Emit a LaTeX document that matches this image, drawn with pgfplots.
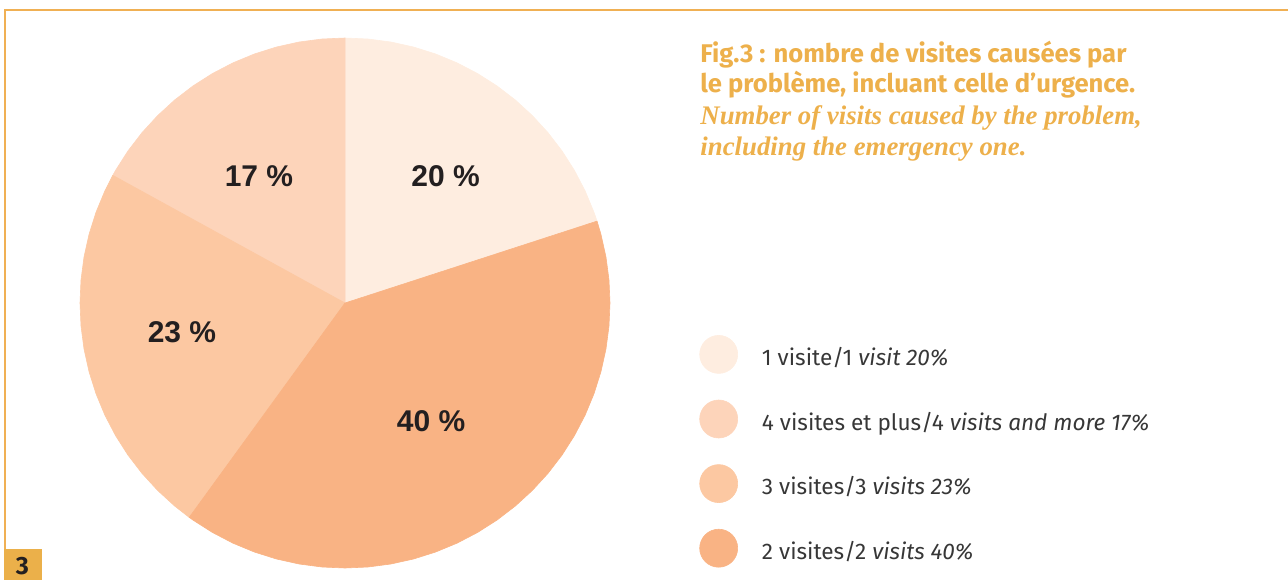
\documentclass[border=0pt]{standalone}
\usepackage{pgfplots}
\pgfplotsset{compat=1.18}
\usepgfplotslibrary{polar}
\usepackage{fontspec}
\setmainfont{Fira Sans}
\newfontfamily\lsans{Liberation Sans}
\newfontfamily\lserif{Liberation Serif}
\definecolor{frameor}{RGB}{240,176,84}
\definecolor{titleor}{RGB}{237,176,75}
\definecolor{boxor}{RGB}{235,176,74}
\definecolor{labelblack}{RGB}{35,31,32}
\definecolor{legtext}{RGB}{55,55,55}
\definecolor{cA}{RGB}{254,237,224}
\definecolor{cB}{RGB}{249,179,132}
\definecolor{cC}{RGB}{252,200,162}
\definecolor{cD}{RGB}{253,212,186}
\begin{document}
\begin{tikzpicture}[x=1pt,y=1pt]
\useasboundingbox (0,0) rectangle (644,290);
\draw[frameor, line width=1pt] (2.5,15.5) -- (2.5,285) -- (644,285);
\fill[boxor] (2,0) rectangle (21,15.5);
\node[font=\bfseries\fontsize{12.5}{14}\selectfont, text=labelblack, inner sep=0pt] at (11.25,7) {3};
% title
\node[anchor=base west, inner sep=0pt, text=titleor, font=\bfseries\fontsize{12.8}{14}\selectfont] at (350,259) {Fig.3 : nombre de visites causées par};
\node[anchor=base west, inner sep=0pt, text=titleor, font=\bfseries\fontsize{12.8}{14}\selectfont] at (350,244) {le problème, incluant celle d’urgence.};
\node[anchor=base west, inner sep=0pt, text=titleor, font=\lserif\bfseries\itshape\fontsize{13.4}{15}\selectfont] at (350,228) {Number of visits caused by the problem,};
\node[anchor=base west, inner sep=0pt, text=titleor, font=\lserif\bfseries\itshape\fontsize{13.4}{15}\selectfont] at (350,212.5) {including the emergency one.};
\begin{polaraxis}[
  at={(172.5pt,138.5pt)}, anchor=origin,
  width=265pt, height=265pt, scale only axis,
  hide axis, clip=false,
  xmin=0, xmax=360, ymin=0, ymax=1,
  legend cell align=left,
  legend image code/.code={\fill[#1] (9.5pt,1pt) circle (9.5pt);},
  legend style={draw=none, fill=none, inner sep=0pt,
    at={(axis description cs:1.1679,0.4402)}, anchor=north west,
    /tikz/row sep=13pt, /tikz/column sep=12pt,
    nodes={inner sep=0pt, text depth=0pt},
    font=\fontsize{11.3}{13}\selectfont, text=legtext},
]
\addplot[fill=cA, draw=cA, line width=0.3pt, line join=round] coordinates {(0,0) (90,1) (85,1) (80,1) (75,1) (70,1) (65,1) (60,1) (55,1) (50,1) (45,1) (40,1) (35,1) (30,1) (25,1) (20,1) (18,1) (0,0)};
\addlegendentry{1 visite/1 \textit{visit 20\%}}
\addplot[fill=cD, draw=cD, line width=0.3pt, line join=round] coordinates {(0,0) (151.2,1) (150,1) (145,1) (140,1) (135,1) (130,1) (125,1) (120,1) (115,1) (110,1) (105,1) (100,1) (95,1) (90,1) (0,0)};
\addlegendentry{4 visites et plus/4 \textit{visits and more 17\%}}
\addplot[fill=cC, draw=cC, line width=0.3pt, line join=round] coordinates {(0,0) (234,1) (230,1) (225,1) (220,1) (215,1) (210,1) (205,1) (200,1) (195,1) (190,1) (185,1) (180,1) (175,1) (170,1) (165,1) (160,1) (155,1) (151.2,1) (0,0)};
\addlegendentry{3 visites/3 \textit{visits 23\%}}
\addplot[fill=cB, draw=cB, line width=0.3pt, line join=round] coordinates {(0,0) (18,1) (15,1) (10,1) (5,1) (0,1) (355,1) (350,1) (345,1) (340,1) (335,1) (330,1) (325,1) (320,1) (315,1) (310,1) (305,1) (300,1) (295,1) (290,1) (285,1) (280,1) (275,1) (270,1) (265,1) (260,1) (255,1) (250,1) (245,1) (240,1) (235,1) (234,1) (0,0)};
\addlegendentry{2 visites/2 \textit{visits 40\%}}
\node[font=\lsans\bfseries\fontsize{15}{17}\selectfont, text=labelblack] at (axis cs:51.6,0.611) {20 \%};
\node[font=\lsans\bfseries\fontsize{15}{17}\selectfont, text=labelblack] at (axis cs:124.1,0.579) {17 \%};
\node[font=\lsans\bfseries\fontsize{15}{17}\selectfont, text=labelblack] at (axis cs:190.1,0.625) {23 \%};
\node[font=\lsans\bfseries\fontsize{15}{17}\selectfont, text=labelblack] at (axis cs:-53.9,0.551) {40 \%};
\end{polaraxis}
\end{tikzpicture}
\end{document}
